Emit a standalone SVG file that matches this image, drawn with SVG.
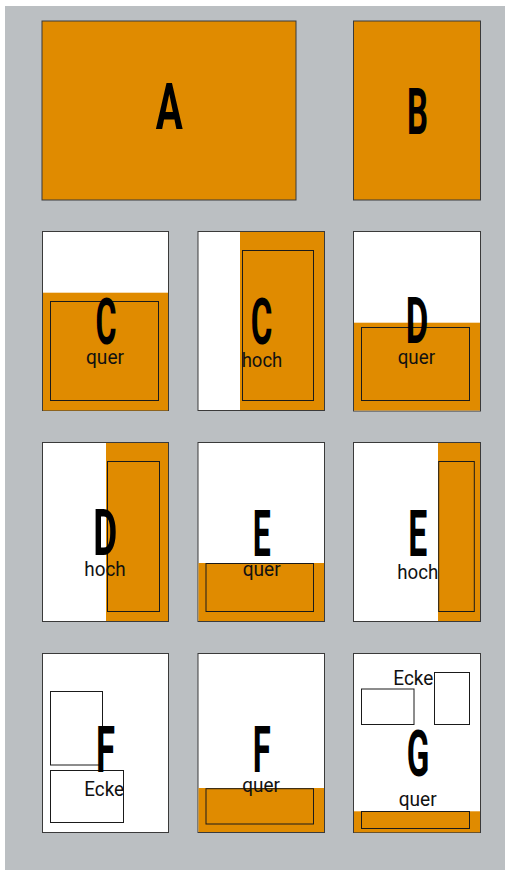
<svg xmlns="http://www.w3.org/2000/svg" width="505" height="870" viewBox="0 0 505 870">
<style>
.bg{fill:#bbbfc2}
.page{fill:#ffffff;stroke:#3a3a3a;stroke-width:1}
.fill{fill:#e08b00}
.or{fill:#e08b00;stroke:#3a3a3a;stroke-width:1}
.in{fill:none;stroke:#1a1a1a;stroke-width:1}
.box{fill:#ffffff;stroke:#1a1a1a;stroke-width:1}
.big{font-family:Roboto,"Liberation Sans",sans-serif;font-weight:700;font-size:65px;fill:#000}
.sm{font-family:Roboto,"Liberation Sans",sans-serif;font-weight:400;font-size:20px;fill:#111}
</style>
<rect class="bg" x="5" y="6" width="500" height="864"/>
<g id="A">
<rect class="or" x="42" y="21" width="254" height="179"/>
<text class="big" x="155.7" y="129.3" textLength="27" lengthAdjust="spacingAndGlyphs">A</text>
</g>
<g id="B">
<rect class="or" x="353.5" y="21" width="127" height="179"/>
<text class="big" x="407" y="134" textLength="21" lengthAdjust="spacingAndGlyphs">B</text>
</g>
<g id="C-quer">
<rect class="page" x="42.5" y="231.5" width="126" height="179"/>
<rect class="fill" x="43" y="292.7" width="125" height="117.8"/>
<rect class="in" x="50.5" y="301.5" width="108" height="99"/>
<text class="big" x="95.5" y="343.5" font-size="63" textLength="21" lengthAdjust="spacingAndGlyphs">C</text>
<text class="sm" x="86" y="364" textLength="38" lengthAdjust="spacingAndGlyphs">quer</text>
</g>
<g id="C-hoch">
<rect class="page" x="198" y="231.5" width="126.5" height="179"/>
<rect class="fill" x="240" y="232" width="84" height="178"/>
<rect class="in" x="242.5" y="250.5" width="71" height="150"/>
<text class="big" x="250.7" y="344" font-size="63" textLength="21.6" lengthAdjust="spacingAndGlyphs">C</text>
<text class="sm" x="241.7" y="366.7" textLength="40.6" lengthAdjust="spacingAndGlyphs">hoch</text>
</g>
<g id="D-quer">
<rect class="page" x="353.5" y="231.5" width="127" height="179.5"/>
<rect class="fill" x="354" y="322.7" width="126" height="87.8"/>
<rect class="in" x="361.5" y="327.5" width="108" height="73"/>
<text class="big" x="405.7" y="343.3" font-size="63" textLength="22.6" lengthAdjust="spacingAndGlyphs">D</text>
<text class="sm" x="397.7" y="364" textLength="37.3" lengthAdjust="spacingAndGlyphs">quer</text>
</g>
<g id="D-hoch">
<rect class="page" x="42.5" y="442.5" width="126" height="179"/>
<rect class="fill" x="106" y="443" width="62" height="178"/>
<rect class="in" x="107.5" y="461.5" width="52" height="150"/>
<text class="big" x="93.3" y="555.3" textLength="24" lengthAdjust="spacingAndGlyphs">D</text>
<text class="sm" x="84.3" y="576" textLength="41.4" lengthAdjust="spacingAndGlyphs">hoch</text>
</g>
<g id="E-quer">
<rect class="page" x="198" y="442.5" width="126.5" height="179"/>
<rect class="fill" x="198.5" y="563" width="125.5" height="58"/>
<rect class="in" x="206" y="563.5" width="107.5" height="48"/>
<text class="big" x="252.7" y="556" textLength="18" lengthAdjust="spacingAndGlyphs">E</text>
<text class="sm" x="242.7" y="575.7" textLength="38" lengthAdjust="spacingAndGlyphs">quer</text>
</g>
<g id="E-hoch">
<rect class="page" x="353.5" y="442.5" width="127" height="179"/>
<rect class="fill" x="438" y="443" width="42" height="178"/>
<rect class="in" x="438.7" y="461.5" width="35.6" height="150"/>
<text class="big" x="408.3" y="555.7" textLength="19" lengthAdjust="spacingAndGlyphs">E</text>
<text class="sm" x="397.3" y="579" textLength="41" lengthAdjust="spacingAndGlyphs">hoch</text>
</g>
<g id="F-ecke">
<rect class="page" x="42.5" y="653.5" width="126" height="179"/>
<rect class="box" x="50.5" y="691.5" width="52" height="73.5"/>
<rect class="box" x="50.5" y="770.5" width="73" height="52"/>
<text class="big" x="96" y="772.3" font-size="64" textLength="19" lengthAdjust="spacingAndGlyphs">F</text>
<text class="sm" x="84.3" y="795.7" textLength="39.7" lengthAdjust="spacingAndGlyphs">Ecke</text>
</g>
<g id="F-quer">
<rect class="page" x="198" y="653.5" width="126.5" height="179"/>
<rect class="fill" x="198.5" y="788" width="125.5" height="44"/>
<rect class="in" x="206" y="788.7" width="107.5" height="35.3"/>
<text class="big" x="252.7" y="771.7" font-size="64" textLength="18" lengthAdjust="spacingAndGlyphs">F</text>
<text class="sm" x="242.3" y="792.3" textLength="37.7" lengthAdjust="spacingAndGlyphs">quer</text>
</g>
<g id="G">
<rect class="page" x="353.5" y="653.5" width="127" height="179"/>
<rect class="fill" x="354" y="811.3" width="126" height="21"/>
<rect class="in" x="361.5" y="811.5" width="108" height="17"/>
<rect class="box" x="361.5" y="689" width="52.5" height="35.5"/>
<rect class="box" x="434.5" y="672.5" width="35" height="52"/>
<text class="sm" x="393.3" y="684.7" textLength="40" lengthAdjust="spacingAndGlyphs">Ecke</text>
<text class="big" x="406.7" y="775.7" textLength="22.6" lengthAdjust="spacingAndGlyphs">G</text>
<text class="sm" x="398.7" y="805.7" textLength="38" lengthAdjust="spacingAndGlyphs">quer</text>
</g>
</svg>
